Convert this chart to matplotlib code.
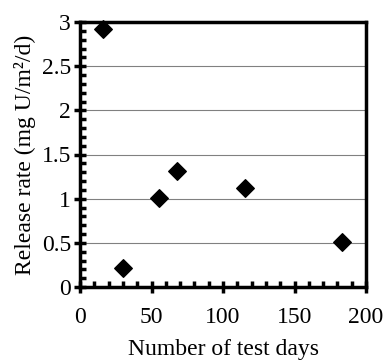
import matplotlib
matplotlib.use("Agg")
import matplotlib.pyplot as plt
from matplotlib.ticker import MultipleLocator

days = [16, 30, 55.5, 67.5, 115.5, 183.5]
rate = [2.92, 0.22, 1.01, 1.31, 1.12, 0.51]

plt.rcParams['font.family'] = ['Liberation Serif']
fig = plt.figure(figsize=(3.87, 3.6), dpi=100)
ax = fig.add_axes([80/387, 1-287/360, 286/387, 265/360])

ax.scatter(days, rate, marker='D', s=80, color='black', zorder=3, clip_on=False)
ax.set_xlim(0, 200)
ax.set_ylim(0, 3)
ax.xaxis.set_major_locator(MultipleLocator(50))
ax.xaxis.set_minor_locator(MultipleLocator(10))
ax.yaxis.set_major_locator(MultipleLocator(0.5))
ax.yaxis.set_minor_locator(MultipleLocator(0.1))
ax.set_yticks([0, 0.5, 1, 1.5, 2, 2.5, 3])
ax.set_yticklabels(['0', '0.5', '1', '1.5', '2', '2.5', '3'])
ax.grid(axis='y', which='major', color='#808080', linewidth=0.8)
ax.set_axisbelow(True)
for s in ax.spines.values():
    s.set_linewidth(2.5)
ax.tick_params(which='major', direction='inout', length=9, width=2.5, labelsize=17)
ax.tick_params(which='minor', direction='in', length=4, width=2.5)
ax.tick_params(axis='x', which='major', pad=10)
ax.tick_params(axis='y', which='major', pad=2)
ax.set_xlabel('Number of test days', fontsize=17, labelpad=8)
ax.set_ylabel('Release rate (mg U/m\u00b2/d)', fontsize=17, labelpad=4)
fig.savefig('out.png', dpi=100)
